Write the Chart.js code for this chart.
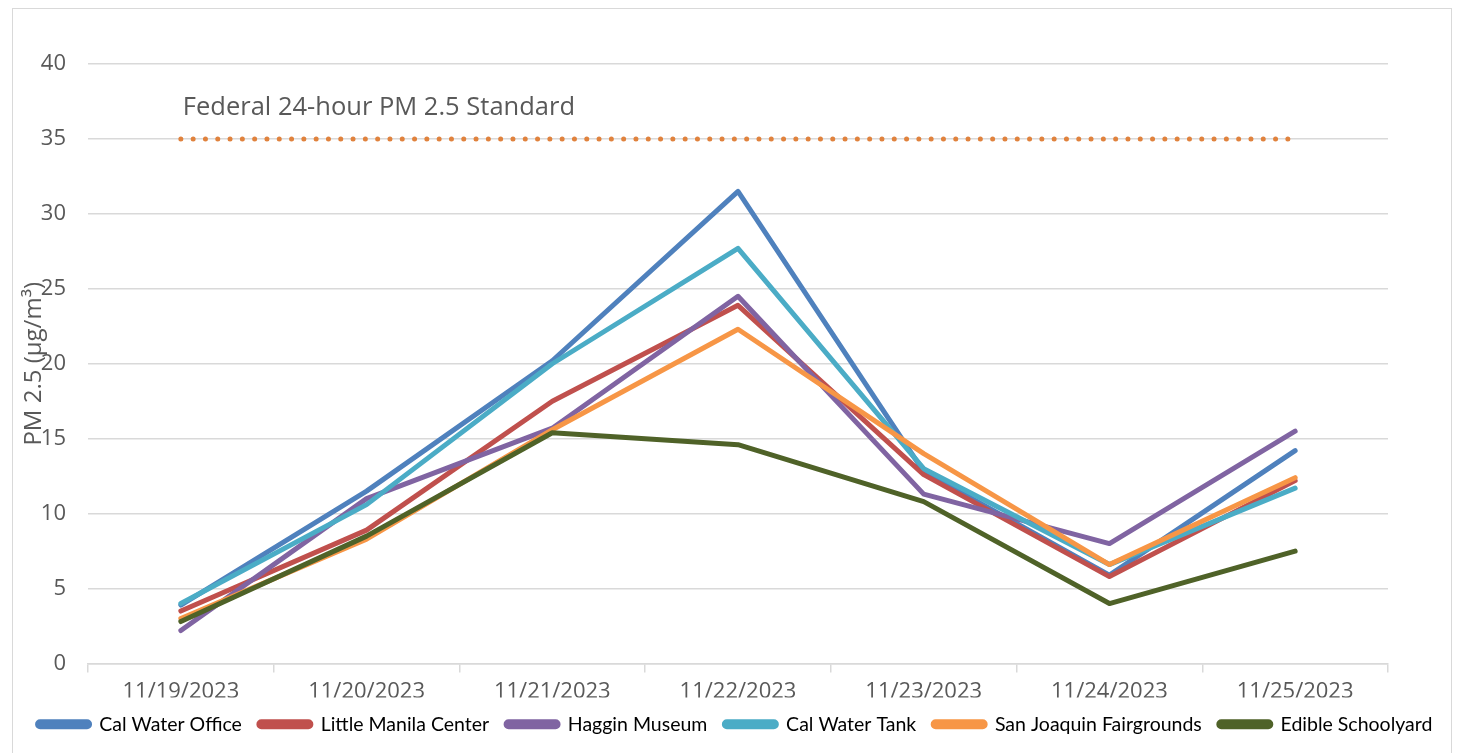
<!DOCTYPE html>
<html>
<head>
<meta charset="utf-8">
<script src="https://cdn.jsdelivr.net/npm/chart.js@4.4.1/dist/chart.umd.min.js"></script>
<style>
  html, body { margin: 0; padding: 0; background: #fff; }
  #wrap { position: relative; width: 1458px; height: 753px; }
  #frame { position: absolute; left: 12px; top: 8px; width: 1440px; height: 760px; border: 1.5px solid #d9d9d9; box-sizing: border-box; }
  canvas { position: absolute; left: 0; top: 0; }
</style>
</head>
<body>
<div id="wrap">
  <div id="frame"></div>
  <canvas id="chart" width="1458" height="753"></canvas>
</div>
<script>
// PM 2.5 daily averages by monitoring site, Stockton, Nov 19-25 2023
const dates = ["11/19/2023", "11/20/2023", "11/21/2023", "11/22/2023", "11/23/2023", "11/24/2023", "11/25/2023"]

const calWaterOffice = [3.9, 11.5, 20.2, 31.5, 12.8, 5.9, 14.2]
const littleManila = [3.5, 8.9, 17.5, 23.9, 12.6, 5.8, 12.2]
const hagginMuseum = [2.2, 11.0, 15.7, 24.5, 11.3, 8.0, 15.5]
const calWaterTank = [4.0, 10.6, 20.0, 27.7, 13.0, 6.6, 11.7]
const sjFairgrounds = [3.0, 8.3, 15.6, 22.3, 14.0, 6.6, 12.4]
const edibleSchoolyard = [2.8, 8.5, 15.4, 14.6, 10.8, 4.0, 7.5]

const federalStandard = 35
const standardLabel = "Federal 24-hour PM 2.5 Standard"
const yTicks = { min: 0, max: 40, step: 5 }

const TEXT = "#595959"
const GRID = "#d9d9d9"

const SERIES = [
  { label: "Cal Water Office", data: calWaterOffice, color: "#4f81bd" },
  { label: "Little Manila Center", data: littleManila, color: "#c0504d" },
  { label: "Haggin Museum", data: hagginMuseum, color: "#8064a2" },
  { label: "Cal Water Tank", data: calWaterTank, color: "#4bacc6" },
  { label: "San Joaquin Fairgrounds", data: sjFairgrounds, color: "#f79646" },
  { label: "Edible Schoolyard", data: edibleSchoolyard, color: "#4f6228" }
]

const datasets = SERIES.map((s, i) => ({
  label: s.label,
  data: s.data,
  borderColor: s.color,
  backgroundColor: s.color,
  borderWidth: 5,
  borderCapStyle: "round",
  borderJoinStyle: "round",
  pointRadius: 0,
  tension: 0,
  // later series paint over earlier ones, as in the original
  order: SERIES.length - i
}))

datasets.push({
  label: "standard",
  data: dates.map(() => federalStandard),
  borderColor: "#e0823d",
  borderWidth: 5,
  borderDash: [0, 12.3],
  borderCapStyle: "round",
  pointRadius: 0,
  order: 99
})

// the standard's caption sits above its dotted line
const standardCaption = {
  id: "standardCaption",
  afterDatasetsDraw(chart) {
    const { ctx, scales } = chart
    ctx.save()
    ctx.font = "25.5px 'Open Sans'"
    ctx.fillStyle = TEXT
    ctx.textBaseline = "middle"
    ctx.fillText(standardLabel, scales.x.getPixelForValue(0) + 2, scales.y.getPixelForValue(37.1))
    ctx.restore()
  }
}

new Chart(document.getElementById("chart"), {
  type: "line",
  data: { labels: dates, datasets },
  plugins: [standardCaption],
  options: {
    responsive: false,
    animation: false,
    layout: { padding: { left: 20, right: 8, top: 64, bottom: 9 } },
    plugins: {
      tooltip: { enabled: false },
      legend: {
        position: "bottom",
        labels: {
          filter: (item) => item.text !== "standard",
          sort: (a, b) => a.datasetIndex - b.datasetIndex,
          boxWidth: 52,
          boxHeight: 5,
          useBorderRadius: true,
          borderRadius: 2.5,
          padding: 17,
          color: "#000",
          font: { family: "Lato", size: 19.5 }
        }
      }
    },
    scales: {
      x: {
        offset: true,
        grid: { offset: true, drawOnChartArea: false, drawTicks: true, tickLength: 9, color: GRID, lineWidth: 1.5 },
        border: { color: GRID, width: 1.5 },
        ticks: { color: TEXT, padding: 6, maxRotation: 0, font: { family: "Open Sans", size: 22 } },
        afterFit: (s) => { s.height = 34 }
      },
      y: {
        min: yTicks.min,
        max: yTicks.max,
        ticks: { stepSize: yTicks.step, color: TEXT, padding: 22, font: { family: "Open Sans", size: 22 } },
        grid: { color: GRID, lineWidth: 1.5, drawTicks: false },
        border: { display: false },
        title: { display: true, text: "PM 2.5 (µg/m³)", color: TEXT, padding: 0, font: { family: "Open Sans", size: 24 } },
        afterFit: (s) => { s.width = 68 }
      },
      // empty right-hand gutter so the plot stops short of the frame
      gutter: {
        type: "linear",
        position: "right",
        display: true,
        ticks: { display: false },
        grid: { display: false },
        border: { display: false },
        afterFit: (s) => { s.width = 62 }
      }
    }
  }
})
</script>
</body>
</html>
